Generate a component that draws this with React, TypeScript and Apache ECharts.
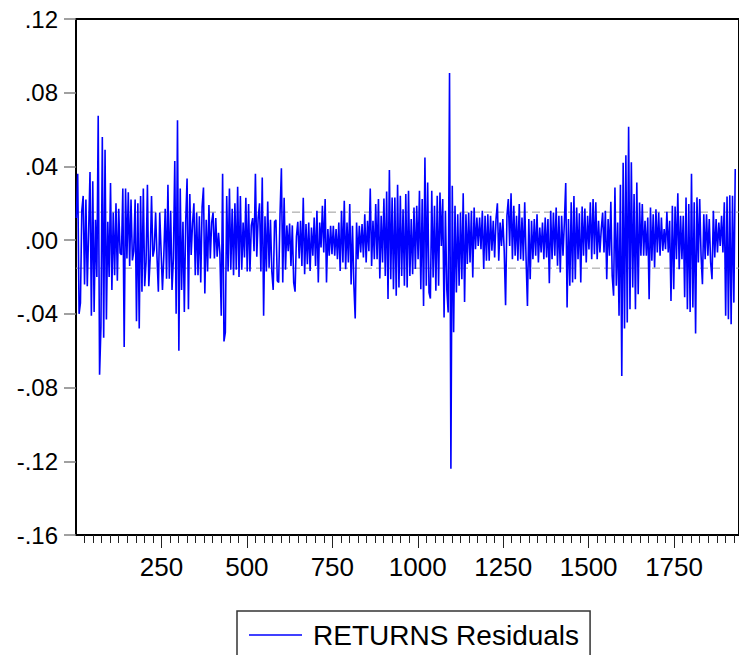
import React, { useEffect, useRef } from "react";
import * as echarts from "echarts";

const FIRST_OBS = 1;
const OBS_STEP = 4;

const residualsObs1to321 = [
  .012, .036, -.040, -.034, .016, .024, -.024, .022, -.025, .005,
  .037, -.041, .032, -.039, .011, -.020, .0675, -.073, -.047, .056,
  -.053, .049, -.043, .010, -.020, .031, -.027, .015, -.019, .020,
  -.022, .017, -.007, -.008, .028, -.058, .028, -.010, .026, -.014,
  .022, -.011, -.006, .022, -.044, .020, -.048, .024, -.028, .028,
  -.025, -.012, .030, -.025, -.010, .024, -.009, -.005, .015, -.009,
  -.028, .015, -.006, -.027, -.008, .017, -.021, .030, -.021, .016,
  -.027, -.010, .043, -.040, .065, -.060, .028, -.027, .010, -.039,
  .010,
];

const residualsObs325to653 = [
  .0335, -.0375, .025, -.008, .009, .020, -.019, .015, -.019, .013,
  -.023, .018, .0286, -.029, .011, -.017, .019, -.010, .0096, .015,
  -.010, .012, -.009, .004, -.007, -.041, .036, -.055, -.050, .024,
  -.017, .028, -.016, .017, -.019, .020, -.016, .029, -.020, .024,
  -.016, .0096, -.0094, .023, -.017, .0196, -.017, .008, .012, -.006,
  .036, -.009, .012, .020, -.017, .034, -.041, .013, -.017, .021,
  -.015, .011, -.017, -.027, .010, .011, -.022, -.023, .014, .039,
  -.023, .023, -.016, .008, -.006, .009, -.014, .008, -.023, -.028,
  .002, .010, -.010,
];

const residualsObs657to985 = [
  .0105, -.014, .023, -.0185, .0087, -.013, .0096, -.0167, .0069, -.0085,
  .0123, -.014, .0159, -.023, .0096, -.004, .0186, -.0067, .0223, -.023,
  .006, -.0085, .0078, -.0076, .0078, -.0085, .006, -.0103, .0096, -.0167,
  .0159, -.0121, .0214, -.0158, .0096, -.0121, .0196, -.024, .0078, -.024,
  -.0425, .0096, -.0103, .0078, -.0067, .0087, -.0094, .0141, -.0121, .0105,
  -.006, .028, -.014, .0105, -.0103, .0196, -.0103, .0223, -.0208, .0132,
  -.0121, .0226, -.0194, .0264, -.032, .038, -.0212, .0232, -.0266, .0232,
  -.0302, .030, -.0257, .0241, -.0194, .0168, -.0248, .025, -.0257, .0268,
  -.0194, .0114, -.0185,
];

const residualsObs989to1321 = [
  .0177, -.0157, .0186, -.0103, .0268, -.0266, .0223, -.0357, .0449, -.0248,
  .0313, -.0284, -.0317, .0268, -.0203, .0186, -.0275, .0241, -.0248, .0259,
  -.0031, .0223, -.042, .0159, -.0266, -.0393, .0907, -.124, .0295, -.050,
  .0186, -.0284, .0141, -.0248, .015, -.0212, .0255, -.0335, .0141, -.013,
  .015, -.0121, .0159, -.0203, .0177, -.0049, .0123, -.0031, .0123, -.0049,
  .0159, -.0157, .0132, -.0112, .0141, -.0112, .0132, -.0058, .0105, -.0094,
  .0114, .020, -.0112, .0096, -.0031, .0114, -.0058, -.0353, .0132, .0223,
  -.0031, .0255, -.0103, .0186, -.0085, .0132, -.0112, .0196, -.0103, .0123,
  -.0112, .0205, -.0103, -.0357,
];

const residualsObs1325to1625 = [
  .0114, -.0212, .0105, -.0103, .0114, -.0085, .0141, -.0121, .0069, -.0067,
  .0096, -.0103, .0123, -.0094, .0114, -.0234, .0159, -.0103, .0150, -.0085,
  .0177, -.0139, .0132, -.0176, .0132, -.0085, .0096, .031, -.0366, .0114,
  -.0248, .0205, -.023, .024, -.0212, .0177, -.0103, .0146, -.023, .0183,
  -.0085, .0172, -.0121, .0132, -.005, .0205, -.0103, .0223, -.0076, .0205,
  -.0103, .0105, -.0067, .006, .0150, -.0067, .0159, -.0212, .0114, -.0085,
  .0208, -.0194, -.0302, .0286, -.0248, .0096, -.041, .030, -.0737, .042,
  -.048, .046, -.0447, .0615, -.0375, .0422,
];

const residualsObs1629to1929 = [
  -.0257, .0250, -.0375, .0313, -.0293, .0204, -.0085, .0196, -.0085, .0105,
  -.0085, .0123, -.032, .0177, -.0112, .0141, -.0148, .0168, -.0067, .015,
  -.0085, .0123, -.0058, .006, -.0049, .0154, -.0067, .0105, -.033, .0186,
  -.0266, .0182, -.0103, .0255, -.0158, .0132, -.0103, .0132, -.031, .0232,
  -.0375, .0196, -.039, .036, -.0366, .0205, -.0507, .0232, -.0121, .0223,
  -.0085, -.0239, .0141, -.0103, .0141, -.0085, .0114, -.0121, -.0212, .0159,
  -.0094, .0114, -.0067, .0096, -.0031, .0132, -.0067, .0205, -.041, .0237,
  -.0429, .0244, -.0456, .0241, -.0339, .0386,
];

const residuals = [
  ...residualsObs1to321,
  ...residualsObs325to653,
  ...residualsObs657to985,
  ...residualsObs989to1321,
  ...residualsObs1325to1625,
  ...residualsObs1629to1929,
];

// ±1 standard error band (dashed grey lines)
const seBand = 0.0152;

// Axis extents and tick lists
const xMin = 0;
const xMax = 1940;
const xMajorTicks = [250, 500, 750, 1000, 1250, 1500, 1750];
const xMinorTicks = [
  25, 50, 75, 100, 125, 150, 175, 200, 225, 250, 275, 300, 325, 350, 375, 400,
  425, 450, 475, 500, 525, 550, 575, 600, 625, 650, 675, 700, 725, 750, 775,
  800, 825, 850, 875, 900, 925, 950, 975, 1000, 1025, 1050, 1075, 1100, 1125,
  1150, 1175, 1200, 1225, 1250, 1275, 1300, 1325, 1350, 1375, 1400, 1425, 1450,
  1475, 1500, 1525, 1550, 1575, 1600, 1625, 1650, 1675, 1700, 1725, 1750, 1775,
  1800, 1825, 1850, 1875, 1900, 1925,
];
const yMin = -0.16;
const yMax = 0.12;
const yStep = 0.04;

const seriesName = "RETURNS Residuals";

const fmtY = (v: number) => {
  const r = Math.round(v * 100) / 100;
  const s = Math.abs(r).toFixed(2).replace(/^0/, "");
  return (r < 0 ? "-" : "") + s;
};

export default function App() {
  const ref = useRef<HTMLDivElement>(null);

  useEffect(() => {
    if (!ref.current) return;
    const chart = echarts.init(ref.current, null, { renderer: "svg" });
    const font = "'Liberation Sans', Arial, sans-serif";
    const lineData = residuals.map((v, i) => [FIRST_OBS + OBS_STEP * i, v]);

    chart.setOption({
      animation: false,
      backgroundColor: "#ffffff",
      textStyle: { fontFamily: font },
      grid: {
        left: 76,
        top: 19,
        width: 666,
        height: 516,
        show: true,
        borderColor: "#000",
        borderWidth: 2,
        backgroundColor: "transparent",
      },
      legend: {
        data: [{ name: seriesName, icon: "rect" }],
        left: 237,
        top: 611,
        itemWidth: 53,
        itemHeight: 1.5,
        padding: [10, 11, 30, 12],
        borderColor: "#333",
        borderWidth: 1.5,
        textStyle: {
          fontSize: 28,
          color: "#000",
          fontFamily: font,
          padding: [0, 0, 0, 6],
        },
      },
      xAxis: [
        {
          type: "value",
          min: xMin,
          max: xMax,
          position: "bottom",
          axisLine: { show: true, onZero: false, lineStyle: { color: "#000", width: 2 } },
          axisTick: {
            show: true,
            length: 8,
            customValues: xMinorTicks,
            lineStyle: { color: "#222", width: 1 },
          },
          axisLabel: { show: false },
          splitLine: { show: false },
        },
        {
          type: "value",
          min: xMin,
          max: xMax,
          position: "bottom",
          axisLine: { show: false, onZero: false },
          axisTick: {
            show: true,
            length: 13,
            customValues: xMajorTicks,
            lineStyle: { color: "#222", width: 1 },
          },
          axisLabel: {
            show: true,
            fontSize: 26,
            color: "#000",
            margin: 19,
            fontFamily: font,
            customValues: xMajorTicks,
            formatter: (v: number) => String(v),
          },
          splitLine: { show: false },
        },
      ],
      yAxis: {
        type: "value",
        min: yMin,
        max: yMax,
        interval: yStep,
        axisLine: { show: true, onZero: false, lineStyle: { color: "#000", width: 2 } },
        axisTick: { show: true, length: 12, lineStyle: { color: "#808080", width: 1.5 } },
        axisLabel: {
          fontSize: 24,
          color: "#000",
          margin: 18,
          fontFamily: font,
          formatter: fmtY,
        },
        splitLine: { show: false },
      },
      series: [
        {
          name: "upperBand",
          type: "line",
          data: [[xMin, seBand], [xMax, seBand]],
          showSymbol: false,
          silent: true,
          z: 1,
          lineStyle: { color: "#9a9a9a", width: 1, type: [8, 4] },
        },
        {
          name: "lowerBand",
          type: "line",
          data: [[xMin, -seBand], [xMax, -seBand]],
          showSymbol: false,
          silent: true,
          z: 1,
          lineStyle: { color: "#9a9a9a", width: 1, type: [8, 4] },
        },
        {
          name: seriesName,
          type: "line",
          data: lineData,
          showSymbol: false,
          z: 3,
          color: "#0000ff",
          lineStyle: { color: "#0000ff", width: 1.6 },
          itemStyle: { color: "#0000ff" },
        },
      ],
    });

    return () => chart.dispose();
  }, []);

  return (
    <div
      ref={ref}
      style={{ position: "fixed", left: 0, top: 0, width: 739, height: 655, background: "#fff" }}
    />
  );
}
